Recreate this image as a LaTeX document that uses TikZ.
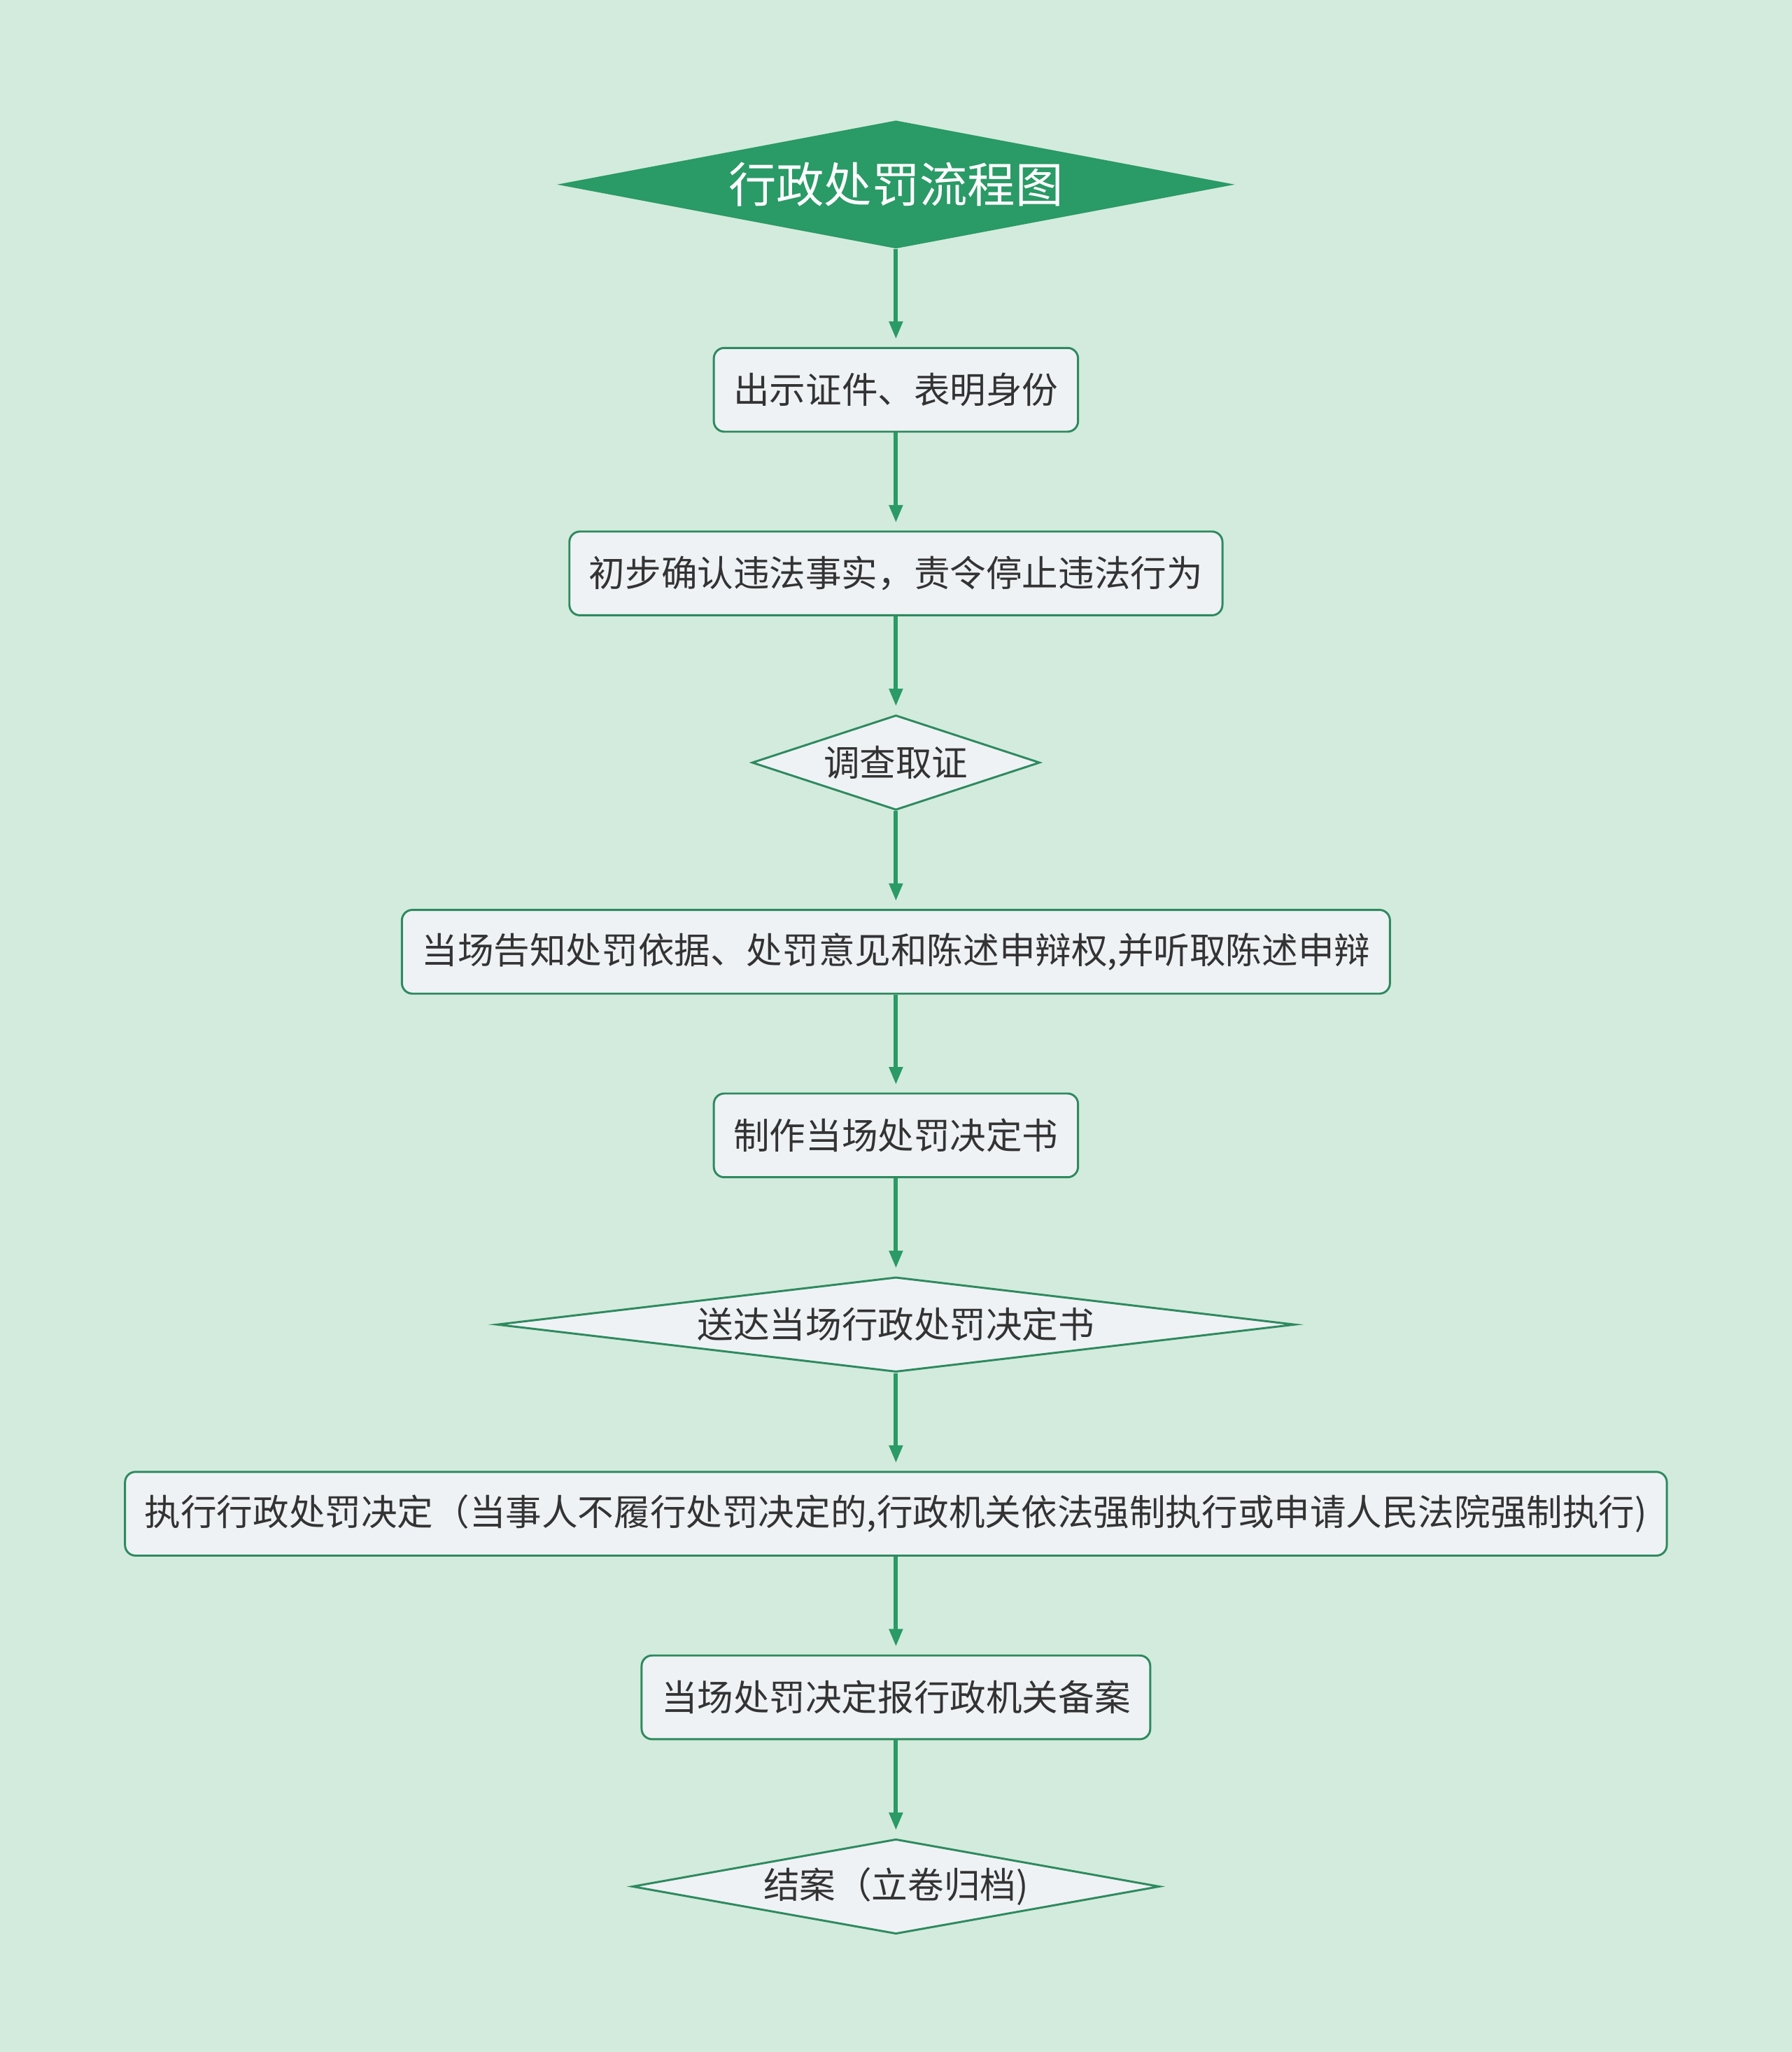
\documentclass[tikz,border=0pt]{standalone}
\usepackage{fontspec}
\newfontfamily\cjk{Noto Sans CJK SC}
\usepackage{tikz}
\usetikzlibrary{positioning,arrows.meta,shapes.geometric}
\usepackage{xcolor}
\definecolor{bgmint}{HTML}{D3EBDC}
\definecolor{titleg}{HTML}{2A9A66}
\definecolor{lineg}{HTML}{2E8A5F}
\definecolor{boxfill}{HTML}{EEF2F5}
\definecolor{txtgray}{HTML}{333333}

\begin{document}
\begin{tikzpicture}[x=0.02cm,y=-0.02cm,
  every node/.style={font=\cjk\fontsize{15.7}{18}\selectfont,text=txtgray},
  node distance=1.495cm,
  stepbox/.style={draw=lineg,line width=0.9pt,fill=boxfill,rounded corners=0.16cm,
    minimum height=1.28cm,inner xsep=0.3cm},
  choice/.style={diamond,draw=lineg,line width=0.9pt,fill=boxfill,inner sep=0pt,
    minimum height=1.45cm},
  flow/.style={draw=titleg,line width=1.8pt,-{Triangle[length=0.27cm,width=0.2cm]},
    shorten >=0.12cm}]
\fill[bgmint] (0,0) rectangle (1369,1568);
\node[diamond,fill=titleg,text=white,font=\cjk\fontsize{20.8}{24}\selectfont,inner sep=0pt,
  minimum width=10.36cm,minimum height=1.96cm,aspect=5.3] (title) at (684.5,141) {行政处罚流程图};
\node[stepbox,below=of title] (show) {出示证件、表明身份};
\node[stepbox,below=of show] (confirm) {初步确认违法事实，责令停止违法行为};
\node[choice,below=of confirm,minimum width=4.4cm,aspect=3] (invest) {调查取证};
\node[stepbox,below=of invest] (inform) {当场告知处罚依据、处罚意见和陈述申辩权,并听取陈述申辩};
\node[stepbox,below=of inform] (make) {制作当场处罚决定书};
\node[choice,below=of make,minimum width=12.2cm,aspect=8.4] (deliver) {送达当场行政处罚决定书};
\node[stepbox,below=of deliver] (exec) {执行行政处罚决定（当事人不履行处罚决定的,行政机关依法强制执行或申请人民法院强制执行)};
\node[stepbox,below=of exec] (report) {当场处罚决定报行政机关备案};
\node[choice,below=of report,minimum width=8.06cm,aspect=5.6] (close) {结案（立卷归档)};
\draw[flow] (title) -- (show);
\draw[flow] (show) -- (confirm);
\draw[flow] (confirm) -- (invest);
\draw[flow] (invest) -- (inform);
\draw[flow] (inform) -- (make);
\draw[flow] (make) -- (deliver);
\draw[flow] (deliver) -- (exec);
\draw[flow] (exec) -- (report);
\draw[flow] (report) -- (close);
\end{tikzpicture}
\end{document}
